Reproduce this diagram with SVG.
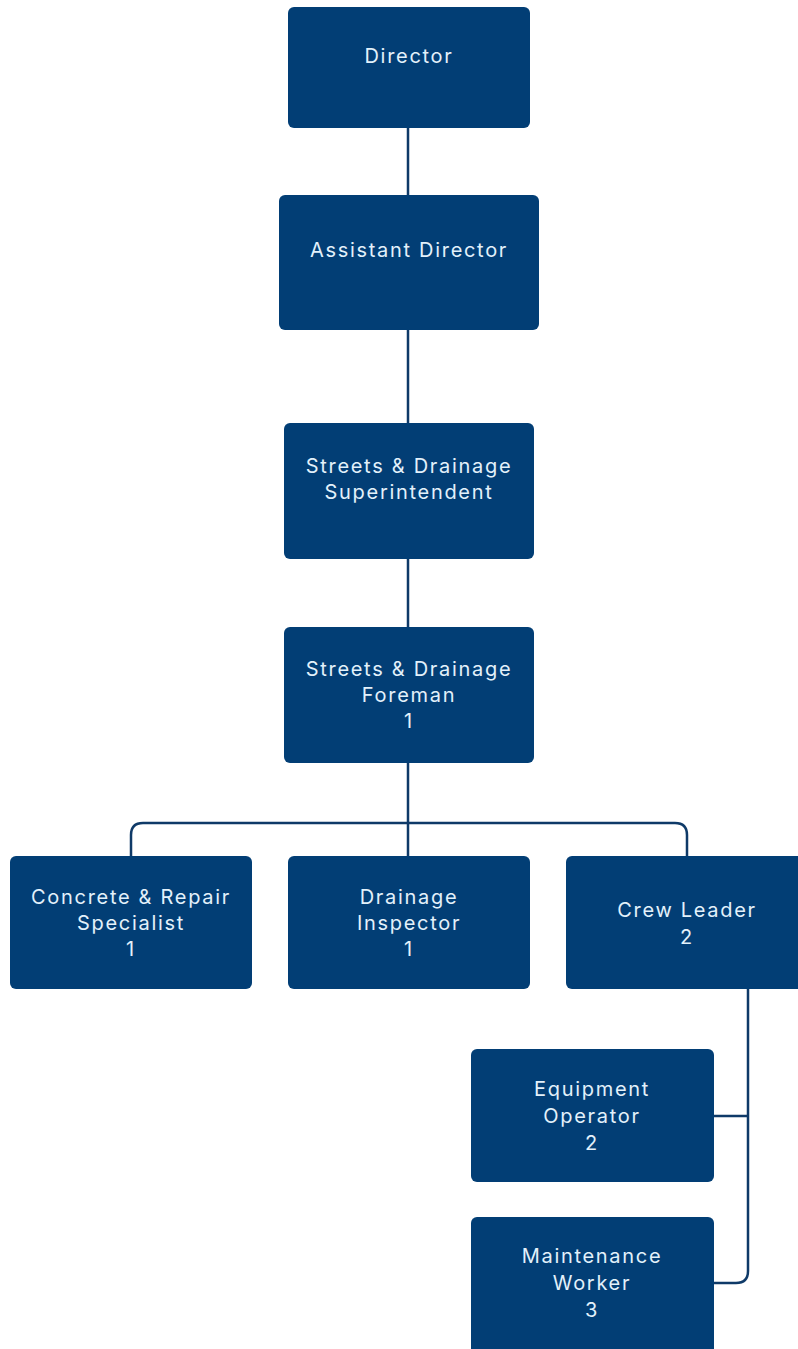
<svg xmlns="http://www.w3.org/2000/svg" width="798" height="1349" viewBox="0 0 798 1349">
<style>
.box{fill:#023e75;}
.t{font-family:Inter,"Liberation Sans",sans-serif;font-size:20px;font-weight:400;letter-spacing:1.7px;fill:#e3f1fb;text-anchor:middle;}
.c{fill:none;stroke:#0f3a68;stroke-width:2.5;}
</style>
<rect width="798" height="1349" fill="#ffffff"/>
<g id="connectors">
<path class="c" d="M408 128 V856"/>
<path class="c" d="M131 856 V835 Q131 823 143 823 H675 Q687 823 687 835 V856"/>
<path class="c" d="M748 989 V1271 Q748 1283 736 1283 H714"/>
<path class="c" d="M714 1116 H748"/>
</g>
<g id="director"><rect class="box" x="288" y="7" width="242" height="121" rx="6"/><text class="t" x="409" y="63">Director</text></g>
<g id="assistant-director"><rect class="box" x="279" y="195" width="260" height="135" rx="6"/><text class="t" x="409" y="257">Assistant Director</text></g>
<g id="superintendent"><rect class="box" x="284" y="423" width="250" height="136" rx="6"/><text class="t" x="409" y="473">Streets &amp; Drainage</text><text class="t" x="409" y="499">Superintendent</text></g>
<g id="foreman"><rect class="box" x="284" y="627" width="250" height="136" rx="6"/><text class="t" x="409" y="676">Streets &amp; Drainage</text><text class="t" x="409" y="702">Foreman</text><text class="t" x="409" y="728">1</text></g>
<g id="concrete"><rect class="box" x="10" y="856" width="242" height="133" rx="6"/><text class="t" x="131" y="904">Concrete &amp; Repair</text><text class="t" x="131" y="930">Specialist</text><text class="t" x="131" y="956">1</text></g>
<g id="drainage-inspector"><rect class="box" x="288" y="856" width="242" height="133" rx="6"/><text class="t" x="409" y="904">Drainage</text><text class="t" x="409" y="930">Inspector</text><text class="t" x="409" y="956">1</text></g>
<g id="crew-leader"><rect class="box" x="566" y="856" width="240" height="133" rx="6"/><text class="t" x="687" y="917">Crew Leader</text><text class="t" x="687" y="944">2</text></g>
<g id="equipment-operator"><rect class="box" x="471" y="1049" width="243" height="133" rx="6"/><text class="t" x="592" y="1096">Equipment</text><text class="t" x="592" y="1123">Operator</text><text class="t" x="592" y="1150">2</text></g>
<g id="maintenance-worker"><rect class="box" x="471" y="1217" width="243" height="140" rx="6"/><text class="t" x="592" y="1263">Maintenance</text><text class="t" x="592" y="1290">Worker</text><text class="t" x="592" y="1317">3</text></g>
</svg>
